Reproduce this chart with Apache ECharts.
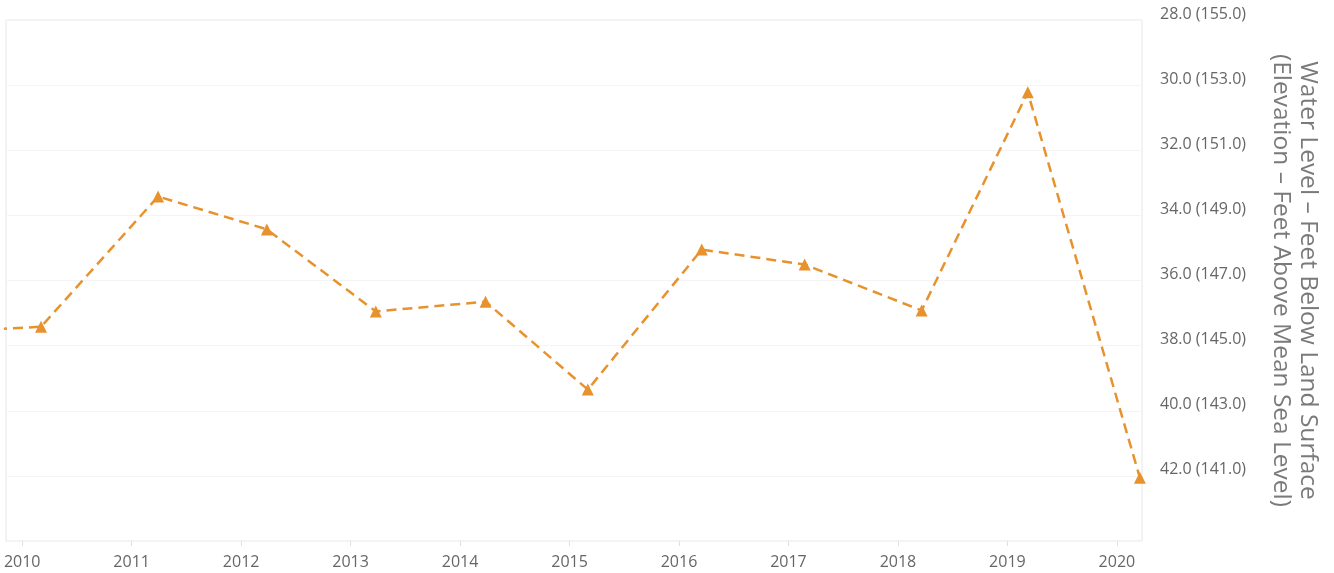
<!DOCTYPE html>
<html>
<head>
<meta charset="utf-8">
<title>Water Level</title>
<script src="https://cdn.jsdelivr.net/npm/echarts@6/dist/echarts.min.js"></script>
<style>
  html, body { margin: 0; padding: 0; background: #fff; }
  #chart { width: 1334px; height: 573px; }
</style>
</head>
<body>
<div id="chart"></div>
<script>
// measurement dates (one per spring) and depth to water, feet below land surface
const sampleDates = [
  "2009-03-10", "2010-03-05", "2011-03-30", "2012-03-27", "2013-03-26",
  "2014-03-27", "2015-03-03", "2016-03-17", "2017-02-24", "2018-03-21",
  "2019-03-10", "2020-03-18"
];
const depthFeet = [
  37.6, 37.42, 33.42, 34.43, 36.95,
  36.65, 39.35, 35.05, 35.51, 36.92,
  30.22, 42.06
];
const yearTicks = [2010, 2011, 2012, 2013, 2014, 2015, 2016, 2017, 2018, 2019, 2020];
const depthTicks = [28, 30, 32, 34, 36, 38, 40, 42];
const landSurfaceElevation = 183.0;

const lineColor = "#e8922e";
const labelColor = "#666";

const chart = echarts.init(document.getElementById("chart"));

// date string -> fractional year, so the x axis can be a plain value axis
const toYear = (s) => {
  const p = s.split("-").map(Number);
  const start = Date.UTC(p[0], 0, 1);
  const end = Date.UTC(p[0] + 1, 0, 1);
  return p[0] + (Date.UTC(p[0], p[1] - 1, p[2]) - start) / (end - start);
};

chart.setOption({
  animation: false,
  grid: {
    left: 6,
    top: 20,
    right: 192,
    bottom: 32,
    show: true,
    borderColor: "#e6e6e6",
    borderWidth: 1
  },
  xAxis: {
    type: "value",
    min: toYear("2009-11-08"),
    max: toYear("2020-03-25"),
    axisLine: { show: false },
    axisTick: {
      show: true,
      customValues: yearTicks,
      length: 5,
      lineStyle: { color: "#e0e0e0" }
    },
    axisLabel: {
      customValues: yearTicks,
      color: labelColor,
      fontFamily: "Open Sans",
      fontSize: 16,
      margin: 13,
      formatter: (v) => String(Math.round(v))
    },
    splitLine: { show: false }
  },
  yAxis: {
    type: "value",
    position: "right",
    inverse: true,
    min: 28,
    max: 44,
    interval: 2,
    axisLine: { show: false },
    axisTick: { show: false },
    splitLine: { show: true, lineStyle: { color: "#f4f4f4" } },
    axisLabel: {
      customValues: depthTicks,
      color: labelColor,
      fontFamily: "Open Sans",
      fontSize: 16,
      lineHeight: 12,
      verticalAlign: "bottom",
      margin: 18,
      formatter: (v) =>
        v.toFixed(1) + " (" + (landSurfaceElevation - v).toFixed(1) + ")"
    },
    name: "Water Level \u2013 Feet Below Land Surface\n(Elevation \u2013 Feet Above Mean Sea Level)",
    nameLocation: "middle",
    nameRotate: -90,
    nameGap: 125,
    nameTextStyle: {
      color: "#7a7a7a",
      fontFamily: "Open Sans",
      fontSize: 24.5,
      lineHeight: 27
    }
  },
  series: [
    {
      type: "line",
      data: sampleDates.map((d, i) => [toYear(d), depthFeet[i]]),
      clip: true,
      symbol: "triangle",
      symbolSize: 12,
      showAllSymbol: true,
      itemStyle: { color: lineColor },
      lineStyle: { color: lineColor, width: 2.5, type: [10, 6] }
    }
  ]
});
</script>
</body>
</html>
